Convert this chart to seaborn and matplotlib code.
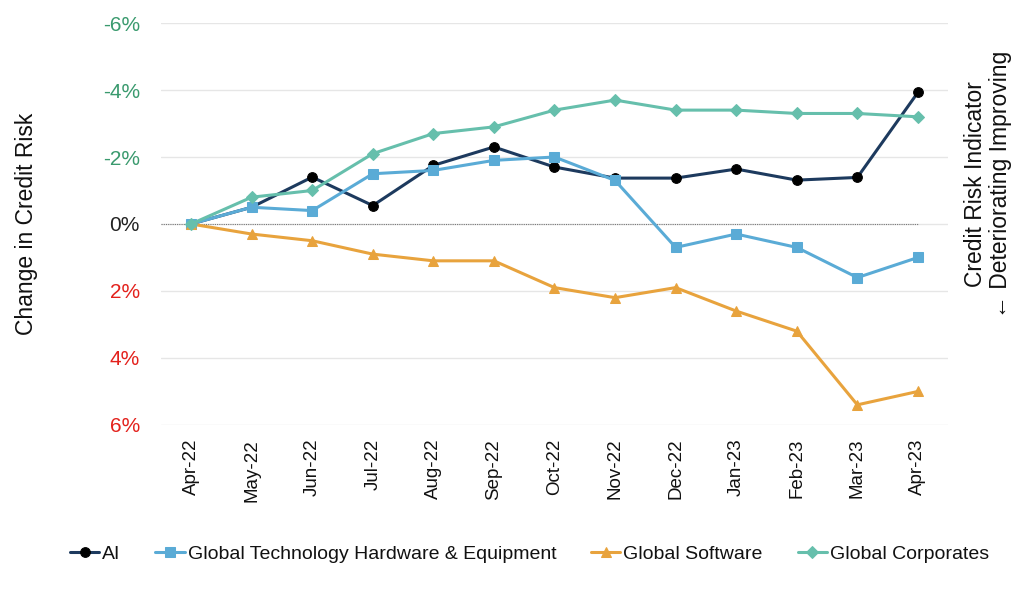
import pandas as pd
import matplotlib.pyplot as plt
import seaborn as sns

# Data (change in credit risk, %; negative = improving)
months = ["Apr-22", "May-22", "Jun-22", "Jul-22", "Aug-22", "Sep-22", "Oct-22",
          "Nov-22", "Dec-22", "Jan-23", "Feb-23", "Mar-23", "Apr-23"]
ai = [0, -0.5, -1.4, -0.55, -1.75, -2.3, -1.7, -1.37, -1.37, -1.64, -1.31, -1.39, -3.93]
hardware = [0, -0.5, -0.4, -1.5, -1.6, -1.9, -2.0, -1.3, 0.7, 0.3, 0.7, 1.6, 1.0]
software = [0, 0.3, 0.5, 0.9, 1.1, 1.1, 1.9, 2.2, 1.9, 2.6, 3.2, 5.4, 5.0]
corporates = [0, -0.8, -1.0, -2.1, -2.7, -2.9, -3.4, -3.7, -3.4, -3.4, -3.3, -3.3, -3.2]
y_ticks = [-6, -4, -2, 0, 2, 4, 6]

sns.set_style("white")
plt.rcParams['font.family'] = ['Liberation Sans', 'DejaVu Sans']
plt.rcParams['text.color'] = '#111111'
plt.rcParams['axes.labelcolor'] = '#111111'
plt.rcParams['xtick.color'] = '#111111'

fig = plt.figure(figsize=(10.24, 5.91), dpi=100)
ax = fig.add_axes([0.157, 0.281, 0.769, 0.680])

x = list(range(len(months)))

# gridlines
for t in y_ticks:
    ax.axhline(t, color="#e6e6e6", lw=1, zorder=0)
ax.plot([-0.5, 12], [0, 0], color="#777777", lw=0.8, ls=(0, (1, 1)), zorder=1)

series = [
    ("AI", ai, "#1d3a5e", "o", 7, "black"),
    ("Global Technology Hardware & Equipment", hardware, "#5aabd6", "s", 7, "#5aabd6"),
    ("Global Software", software, "#e8a33d", "^", 7, "#e8a33d"),
    ("Global Corporates", corporates, "#66bfac", "D", 6, "#66bfac"),
]
handles = []
for name, vals, col, mk, ms, mfc in series:
    sns.lineplot(x=x, y=vals, ax=ax, color=col, lw=2.2, marker=mk, markersize=ms,
                 markerfacecolor=mfc, markeredgecolor=mfc, zorder=3, legend=False)
    handles.append(ax.lines[-1])

ax.set_xlim(-0.5, 12.5)
ax.set_ylim(6, -6)
ax.set_xticks(x)
ax.set_xticklabels(months, rotation=90, fontsize=13.5)
ax.set_yticks(y_ticks)
ax.set_yticklabels([f"{t}%" for t in y_ticks], fontsize=15)
for lbl, t in zip(ax.get_yticklabels(), y_ticks):
    if t < 0:
        lbl.set_color("#3a9a6e")
    elif t > 0:
        lbl.set_color("#e3211c")
    else:
        lbl.set_color("#222222")
ax.tick_params(axis="y", length=0, pad=15)
ax.tick_params(axis="x", length=0, pad=10)
for s in ax.spines.values():
    s.set_visible(False)

ax.set_ylabel("Change in Credit Risk", fontsize=16.5, labelpad=47)
fig.text(0.965, 0.688, "Credit Risk Indicator\n\u2190 Deteriorating Improving",
         rotation=90, fontsize=16.5, ha="center", va="center", linespacing=1.1)

labels = [s[0] for s in series]
fig.legend(handles, labels, loc="center", bbox_to_anchor=(0.517, 0.062), ncol=4,
           frameon=False, fontsize=14, handlelength=1.5, handletextpad=0.15,
           columnspacing=1.8)

fig.savefig("out.png", dpi=100)
